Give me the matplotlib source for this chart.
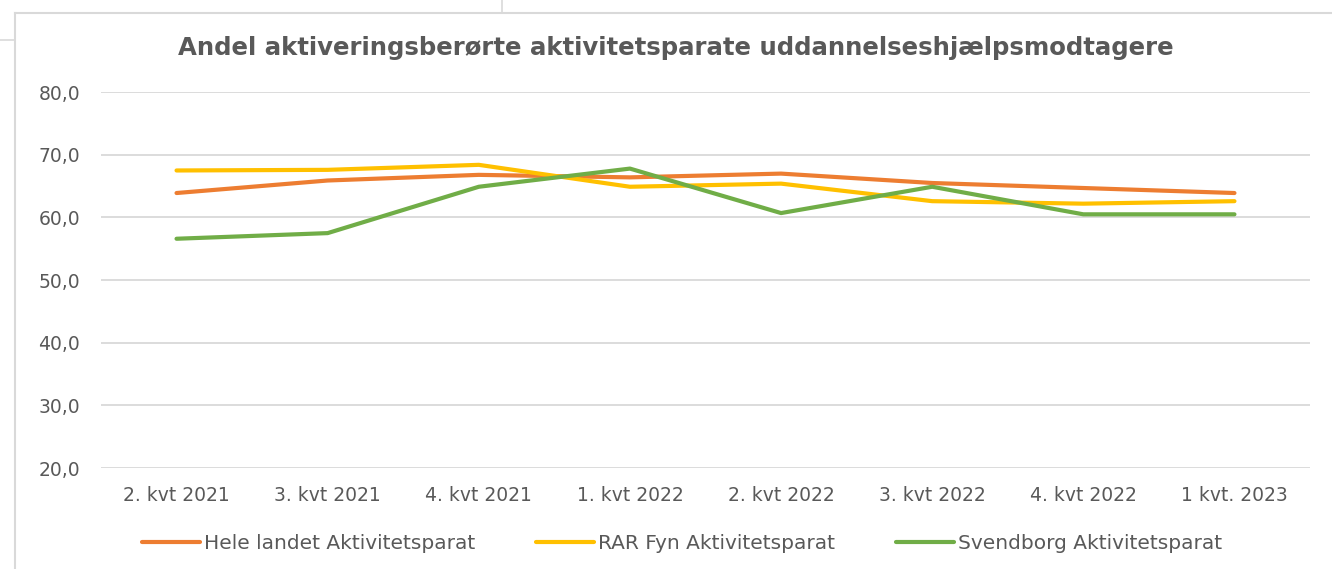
import matplotlib.pyplot as plt
from matplotlib.lines import Line2D
from matplotlib.ticker import FuncFormatter

quarters = ["2. kvt 2021", "3. kvt 2021", "4. kvt 2021", "1. kvt 2022",
            "2. kvt 2022", "3. kvt 2022", "4. kvt 2022", "1 kvt. 2023"]
hele_landet = [63.9, 65.9, 66.8, 66.4, 67.0, 65.5, 64.7, 63.9]
rar_fyn = [67.5, 67.6, 68.4, 64.9, 65.4, 62.6, 62.2, 62.6]
svendborg = [56.6, 57.5, 64.9, 67.8, 60.7, 64.9, 60.5, 60.5]

series_names = ["Hele landet Aktivitetsparat", "RAR Fyn Aktivitetsparat",
                "Svendborg Aktivitetsparat"]
colors = ["#ED7D31", "#FFC000", "#70AD47"]
text_color = "#595959"

plt.rcParams["font.family"] = ["DejaVu Sans"]

fig = plt.figure(figsize=(13.32, 5.69), dpi=100)
ax = fig.add_axes([0.0758, 0.1775, 0.9077, 0.6605])

x = range(len(quarters))
for vals, name, c in zip([hele_landet, rar_fyn, svendborg], series_names, colors):
    ax.plot(x, vals, color=c, linewidth=3, label=name, solid_capstyle="round")

ax.set_xlim(-0.5, len(quarters) - 0.5)
ax.set_ylim(20, 80)
ax.set_yticks(range(20, 81, 10))
ax.yaxis.set_major_formatter(FuncFormatter(lambda v, p: f"{v:.1f}".replace(".", ",")))
ax.set_xticks(list(x))
ax.set_xticklabels(quarters)
ax.tick_params(axis="both", length=0, labelsize=13.5, colors=text_color)
ax.tick_params(axis="x", pad=13)
ax.tick_params(axis="y", pad=15)
ax.grid(axis="y", color="#D9D9D9", linewidth=1.3)
ax.set_axisbelow(True)
for s in ax.spines.values():
    s.set_visible(False)

fig.text(0.507, 0.915, "Andel aktiveringsberørte aktivitetsparate uddannelseshjælpsmodtagere",
         ha="center", va="center", fontsize=17.6, fontweight="bold", color=text_color)

fig.legend(loc="center", bbox_to_anchor=(0.512, 0.045), ncol=3, frameon=False,
           fontsize=14.5, labelcolor=text_color, handlelength=2.9, handletextpad=0.2,
           columnspacing=3.0)

# spreadsheet frame lines around the chart
border = "#D9D9D9"
fig.add_artist(Line2D([0.011, 0.011], [0, 0.977], color=border, lw=1.5))
fig.add_artist(Line2D([0.011, 1.0], [0.977, 0.977], color=border, lw=1.5))
fig.add_artist(Line2D([0.0, 0.011], [0.93, 0.93], color=border, lw=1.2))
fig.add_artist(Line2D([0.377, 0.377], [0.977, 1.0], color=border, lw=1.2))

plt.savefig("out.png")
